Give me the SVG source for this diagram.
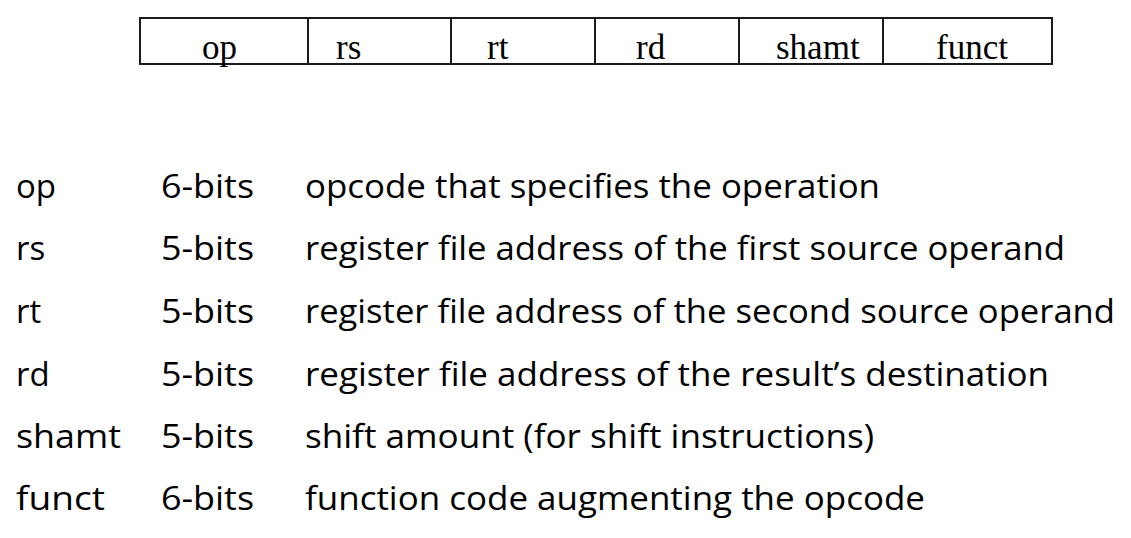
<svg xmlns="http://www.w3.org/2000/svg" width="1131" height="538" viewBox="0 0 1131 538">
<style>
.cell{fill:none;stroke:#1a1a1a;stroke-width:2}
.f{font-family:"Liberation Serif","Times New Roman",serif;font-size:35px;fill:#000}
.t{font-family:"Open Sans","Noto Sans",sans-serif;font-size:33px;fill:#000}
</style>
<rect width="1131" height="538" fill="#fff"/>
<g id="format">
<rect class="cell" x="140" y="18" width="912" height="46"/>
<g id="dividers">
<line class="cell" x1="308" y1="18" x2="308" y2="64"/>
<line class="cell" x1="451" y1="18" x2="451" y2="64"/>
<line class="cell" x1="595" y1="18" x2="595" y2="64"/>
<line class="cell" x1="739" y1="18" x2="739" y2="64"/>
<line class="cell" x1="883" y1="18" x2="883" y2="64"/>
</g>
<text class="f" x="202" y="59">op</text>
<text class="f" x="336" y="59">rs</text>
<text class="f" x="487" y="59">rt</text>
<text class="f" x="636" y="59">rd</text>
<text class="f" x="776" y="59">shamt</text>
<text class="f" x="936" y="59">funct</text>
</g>
<g id="row-op">
<text class="t" x="16" y="198">op</text>
<text class="t" x="161" y="198" textLength="93" lengthAdjust="spacingAndGlyphs">6-bits</text>
<text class="t" x="305" y="198" textLength="575" lengthAdjust="spacingAndGlyphs">opcode that specifies the operation</text>
</g>
<g id="row-rs">
<text class="t" x="16" y="260">rs</text>
<text class="t" x="161" y="260" textLength="93" lengthAdjust="spacingAndGlyphs">5-bits</text>
<text class="t" x="305" y="260" textLength="760" lengthAdjust="spacingAndGlyphs">register file address of the first source operand</text>
</g>
<g id="row-rt">
<text class="t" x="16" y="323">rt</text>
<text class="t" x="161" y="323" textLength="93" lengthAdjust="spacingAndGlyphs">5-bits</text>
<text class="t" x="305" y="323" textLength="810" lengthAdjust="spacingAndGlyphs">register file address of the second source operand</text>
</g>
<g id="row-rd">
<text class="t" x="16" y="386">rd</text>
<text class="t" x="161" y="386" textLength="93" lengthAdjust="spacingAndGlyphs">5-bits</text>
<text class="t" x="305" y="386" textLength="744" lengthAdjust="spacingAndGlyphs">register file address of the result’s destination</text>
</g>
<g id="row-shamt">
<text class="t" x="16" y="448" textLength="105" lengthAdjust="spacingAndGlyphs">shamt</text>
<text class="t" x="161" y="448" textLength="93" lengthAdjust="spacingAndGlyphs">5-bits</text>
<text class="t" x="305" y="448" textLength="569" lengthAdjust="spacingAndGlyphs">shift amount (for shift instructions)</text>
</g>
<g id="row-funct">
<text class="t" x="16" y="510" textLength="89" lengthAdjust="spacingAndGlyphs">funct</text>
<text class="t" x="161" y="510" textLength="93" lengthAdjust="spacingAndGlyphs">6-bits</text>
<text class="t" x="305" y="510" textLength="620" lengthAdjust="spacingAndGlyphs">function code augmenting the opcode</text>
</g>
</svg>
